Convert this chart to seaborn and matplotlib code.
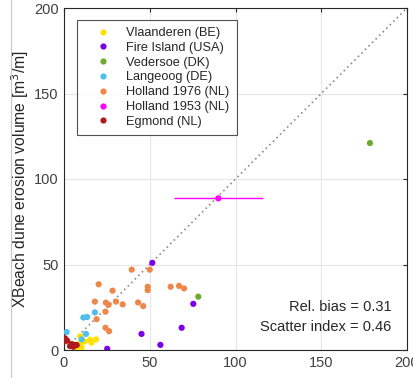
import numpy as np
import pandas as pd
import matplotlib
matplotlib.use("Agg")
import matplotlib.pyplot as plt
from matplotlib.lines import Line2D
import seaborn as sns

# ---- data ----
labels = ["Vlaanderen (BE)", "Fire Island (USA)", "Vedersoe (DK)", "Langeoog (DE)",
          "Holland 1976 (NL)", "Holland 1953 (NL)", "Egmond (NL)"]
colors = ["#FFE100", "#7A00E6", "#6FAA2E", "#4DBEEE", "#F0874A", "#FF00FF", "#B01A1A"]

vla_x = [9.5, 15.2, 18.7, 16.0, 9.3, 8.3, 10.3, 7.4, 12.0]
vla_y = [8.0, 6.0, 6.2, 4.3, 3.9, 1.9, 1.6, 1.0, 5.0]

fire_x = [51.5, 75.4, 68.6, 45.2, 56.2, 25.2]
fire_y = [51.0, 27.0, 13.0, 9.4, 3.0, 0.7]

ved_x = [78.3, 178.4]
ved_y = [31.2, 121.0]

lan_x = [1.5, 11.3, 13.5, 18.0, 12.8, 10.3]
lan_y = [10.5, 19.0, 19.3, 22.0, 9.4, 6.2]

h76_x = [39.5, 50.0, 20.2, 28.3, 48.8, 48.8, 62.2, 67.1, 70.0, 18.0, 24.4, 26.0,
         30.3, 34.2, 43.2, 46.2, 24.2, 19.0, 24.2, 26.3]
h76_y = [47.0, 47.0, 38.4, 34.7, 37.0, 35.0, 37.0, 37.5, 36.0, 28.3, 27.7, 26.5,
         28.3, 26.7, 27.8, 25.7, 22.4, 18.0, 13.0, 11.0]

h53_x = [90.0]
h53_y = [88.7]
h53_xerr = [26.0]

egm_x = [0.6, 0.0, 4.5, 6.4, 5.4, 3.5, 7.4, 1.8]
egm_y = [6.8, 4.9, 3.5, 2.9, 1.9, 2.3, 2.9, 5.5]

xs = [vla_x, fire_x, ved_x, lan_x, h76_x, h53_x, egm_x]
ys = [vla_y, fire_y, ved_y, lan_y, h76_y, h53_y, egm_y]

ticks = [0, 50, 100, 150, 200]
rel_bias = 0.31
scatter_index = 0.46

# ---- build table ----
rows = []
for lab, xx, yy in zip(labels, xs, ys):
    for a, b in zip(xx, yy):
        rows.append({"obs": a, "xb": b, "set": lab})
df = pd.DataFrame(rows)

sns.set_style("white")
plt.rcParams["font.family"] = ["Liberation Sans", "DejaVu Sans"]

fig = plt.figure(figsize=(4.14, 3.78), dpi=100)
ax = fig.add_axes([64 / 414, 28 / 378, 343 / 414, 342 / 378])

# faint frame line at the left of the picture
fig.add_artist(Line2D([11.5 / 414, 11.5 / 414], [0, 1], color="#c8c8c8", linewidth=0.8,
                      transform=fig.transFigure))

# grid
ax.grid(True, color="#e6e6e6", linewidth=0.8)
ax.set_axisbelow(True)

# 1:1 line
ax.plot([0, 200], [0, 200], linestyle=(0, (1, 2)), color="#8c8c8c", linewidth=1.2, zorder=1)

# error bar Holland 1953
ax.errorbar(h53_x, h53_y, xerr=h53_xerr, fmt="none", ecolor="#FF00FF",
            elinewidth=1.0, capsize=0, zorder=2)

sns.scatterplot(data=df, x="obs", y="xb", hue="set", hue_order=labels,
                palette=dict(zip(labels, colors)), s=20, linewidth=0,
                ax=ax, zorder=3, legend=True)

ax.set_xlim(0, 200)
ax.set_ylim(0, 200)
ax.set_xticks(ticks)
ax.set_yticks(ticks)
ax.set_xlabel("")
ax.set_ylabel("XBeach dune erosion volume [m$^3$/m]", fontsize=11.3, color="#262626")
ax.yaxis.set_label_coords(-0.097, 0.5)
ax.tick_params(direction="in", length=3, top=True, right=True, labelsize=10.5,
               colors="#262626", pad=4)
for lbl in ax.get_xticklabels() + ax.get_yticklabels():
    lbl.set_color("#404040")
for sp in ax.spines.values():
    sp.set_color("#262626")
    sp.set_linewidth(0.8)

leg = ax.legend(loc="upper left", bbox_to_anchor=(0.038, 0.965), frameon=True,
                fancybox=False, fontsize=9.2, borderpad=0.55, labelspacing=0.22,
                handlelength=3.0, handletextpad=0.3, borderaxespad=0, markerscale=1.0)
leg.get_frame().set_edgecolor("#262626")
leg.get_frame().set_linewidth(0.8)
for t in leg.get_texts():
    t.set_color("#262626")

ax.text(0.955, 0.125, f"Rel. bias = {rel_bias:.2f}", transform=ax.transAxes,
        ha="right", va="center", fontsize=10.5, color="#262626")
ax.text(0.955, 0.068, f"Scatter index = {scatter_index:.2f}", transform=ax.transAxes,
        ha="right", va="center", fontsize=10.5, color="#262626")

fig.savefig("out.png", dpi=100)
